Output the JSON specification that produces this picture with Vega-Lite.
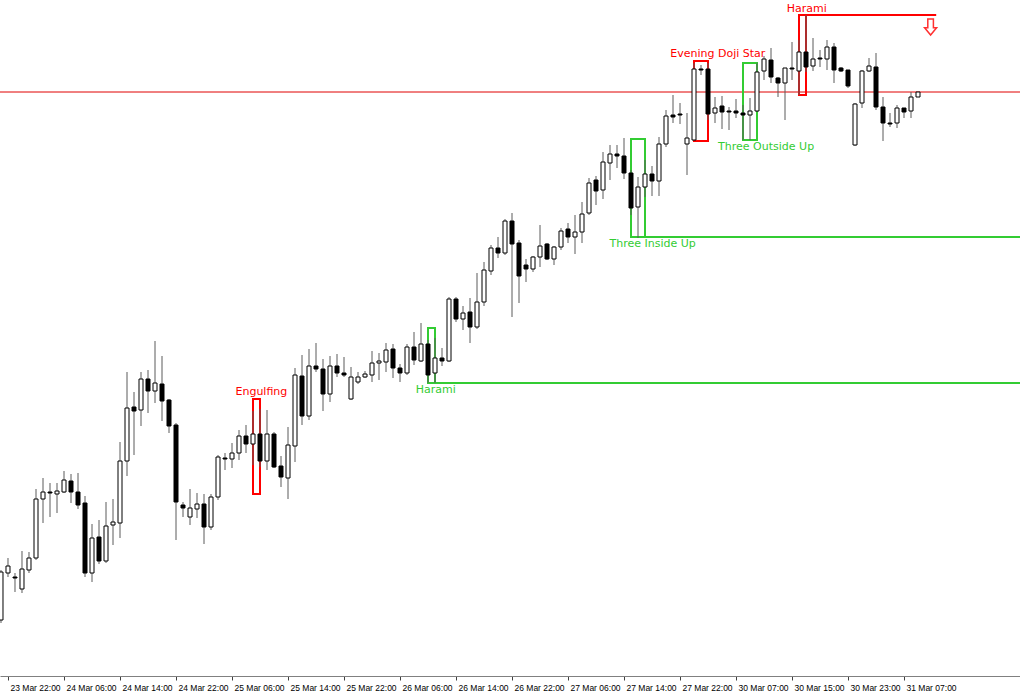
{
  "$schema": "https://vega.github.io/schema/vega-lite/v6.json",
  "width": 1020,
  "height": 676,
  "padding": {"left": 0, "top": 0, "right": 0, "bottom": 24},
  "autosize": {"type": "none"},
  "background": "white",
  "config": {"view": {"stroke": null}},
  "datasets": {
    "candles": [
      {"i":-1,"o":380,"h":430,"l":377,"c":428},
      {"i":0,"o":427,"h":442,"l":423,"c":434},
      {"i":1,"o":423,"h":427,"l":408,"c":422},
      {"i":2,"o":411,"h":449,"l":407,"c":431},
      {"i":3,"o":430,"h":448,"l":427,"c":442},
      {"i":4,"o":442,"h":511,"l":440,"c":501},
      {"i":5,"o":501,"h":522,"l":477,"c":508},
      {"i":6,"o":508,"h":517,"l":483,"c":507},
      {"i":7,"o":506,"h":517,"l":487,"c":509},
      {"i":8,"o":508,"h":529,"l":507,"c":520},
      {"i":9,"o":519,"h":526,"l":497,"c":508},
      {"i":10,"o":508,"h":527,"l":491,"c":495},
      {"i":11,"o":497,"h":504,"l":423,"c":427},
      {"i":12,"o":427,"h":476,"l":418,"c":462},
      {"i":13,"o":463,"h":480,"l":436,"c":439},
      {"i":14,"o":439,"h":498,"l":437,"c":474},
      {"i":15,"o":475,"h":501,"l":455,"c":478},
      {"i":16,"o":477,"h":558,"l":462,"c":539},
      {"i":17,"o":539,"h":628,"l":524,"c":592},
      {"i":18,"o":593,"h":608,"l":545,"c":589},
      {"i":19,"o":590,"h":628,"l":574,"c":621},
      {"i":20,"o":621,"h":630,"l":587,"c":609},
      {"i":21,"o":609,"h":659,"l":597,"c":617},
      {"i":22,"o":616,"h":644,"l":579,"c":599},
      {"i":23,"o":600,"h":601,"l":567,"c":574},
      {"i":24,"o":575,"h":577,"l":460,"c":498},
      {"i":25,"o":495,"h":498,"l":483,"c":492},
      {"i":26,"o":483,"h":511,"l":475,"c":492},
      {"i":27,"o":491,"h":507,"l":482,"c":496},
      {"i":28,"o":496,"h":506,"l":456,"c":473},
      {"i":29,"o":473,"h":506,"l":470,"c":503},
      {"i":30,"o":503,"h":545,"l":500,"c":543},
      {"i":31,"o":542,"h":547,"l":530,"c":541},
      {"i":32,"o":541,"h":557,"l":532,"c":547},
      {"i":33,"o":547,"h":570,"l":540,"c":564},
      {"i":34,"o":564,"h":575,"l":547,"c":556},
      {"i":35,"o":556,"h":589,"l":535,"c":566},
      {"i":36,"o":566,"h":591,"l":533,"c":539},
      {"i":37,"o":539,"h":590,"l":530,"c":566},
      {"i":38,"o":566,"h":568,"l":532,"c":533},
      {"i":39,"o":534,"h":544,"l":513,"c":523},
      {"i":40,"o":522,"h":573,"l":501,"c":555},
      {"i":41,"o":554,"h":632,"l":538,"c":625},
      {"i":42,"o":624,"h":645,"l":575,"c":584},
      {"i":43,"o":584,"h":651,"l":580,"c":634},
      {"i":44,"o":634,"h":657,"l":628,"c":631},
      {"i":45,"o":631,"h":641,"l":589,"c":606},
      {"i":46,"o":606,"h":644,"l":598,"c":634},
      {"i":47,"o":634,"h":646,"l":623,"c":627},
      {"i":48,"o":627,"h":643,"l":623,"c":625},
      {"i":49,"o":601,"h":633,"l":600,"c":623},
      {"i":50,"o":618,"h":628,"l":616,"c":623},
      {"i":51,"o":623,"h":629,"l":622,"c":626},
      {"i":52,"o":625,"h":649,"l":618,"c":637},
      {"i":53,"o":637,"h":647,"l":620,"c":639},
      {"i":54,"o":638,"h":657,"l":628,"c":650},
      {"i":55,"o":651,"h":656,"l":622,"c":632},
      {"i":56,"o":632,"h":636,"l":618,"c":627},
      {"i":57,"o":627,"h":656,"l":625,"c":653},
      {"i":58,"o":653,"h":668,"l":635,"c":640},
      {"i":59,"o":639,"h":677,"l":638,"c":656},
      {"i":60,"o":656,"h":660,"l":617,"c":625},
      {"i":61,"o":627,"h":662,"l":617,"c":642},
      {"i":62,"o":642,"h":652,"l":634,"c":639},
      {"i":63,"o":639,"h":703,"l":638,"c":701},
      {"i":64,"o":701,"h":703,"l":678,"c":681},
      {"i":65,"o":681,"h":694,"l":670,"c":687},
      {"i":66,"o":688,"h":702,"l":657,"c":673},
      {"i":67,"o":673,"h":727,"l":671,"c":698},
      {"i":68,"o":698,"h":738,"l":694,"c":730},
      {"i":69,"o":729,"h":755,"l":725,"c":752},
      {"i":70,"o":752,"h":763,"l":742,"c":747},
      {"i":71,"o":747,"h":781,"l":745,"c":779},
      {"i":72,"o":779,"h":787,"l":683,"c":756},
      {"i":73,"o":757,"h":760,"l":697,"c":724},
      {"i":74,"o":735,"h":741,"l":718,"c":731},
      {"i":75,"o":731,"h":744,"l":728,"c":743},
      {"i":76,"o":743,"h":775,"l":733,"c":754},
      {"i":77,"o":756,"h":757,"l":740,"c":741},
      {"i":78,"o":741,"h":754,"l":735,"c":753},
      {"i":79,"o":753,"h":772,"l":750,"c":769},
      {"i":80,"o":771,"h":777,"l":757,"c":763},
      {"i":81,"o":763,"h":785,"l":746,"c":768},
      {"i":82,"o":768,"h":798,"l":757,"c":786},
      {"i":83,"o":787,"h":822,"l":785,"c":817},
      {"i":84,"o":820,"h":824,"l":795,"c":809},
      {"i":85,"o":810,"h":848,"l":801,"c":838},
      {"i":86,"o":837,"h":855,"l":820,"c":846},
      {"i":87,"o":846,"h":855,"l":832,"c":844},
      {"i":88,"o":844,"h":862,"l":821,"c":827},
      {"i":89,"o":827,"h":830,"l":785,"c":792},
      {"i":90,"o":793,"h":823,"l":762,"c":813},
      {"i":91,"o":813,"h":840,"l":803,"c":826},
      {"i":92,"o":826,"h":834,"l":804,"c":819},
      {"i":93,"o":819,"h":863,"l":804,"c":856},
      {"i":94,"o":856,"h":890,"l":853,"c":884},
      {"i":95,"o":885,"h":905,"l":877,"c":883},
      {"i":96,"o":886,"h":897,"l":876,"c":885},
      {"i":97,"o":856,"h":887,"l":825,"c":862},
      {"i":98,"o":860,"h":937,"l":859,"c":931},
      {"i":99,"o":931,"h":935,"l":925,"c":930},
      {"i":100,"o":931,"h":937,"l":880,"c":886},
      {"i":101,"o":887,"h":903,"l":877,"c":892},
      {"i":102,"o":894,"h":904,"l":871,"c":888},
      {"i":103,"o":889,"h":893,"l":870,"c":888},
      {"i":104,"o":889,"h":901,"l":882,"c":887},
      {"i":105,"o":887,"h":895,"l":860,"c":885},
      {"i":106,"o":885,"h":902,"l":860,"c":889},
      {"i":107,"o":889,"h":937,"l":888,"c":928},
      {"i":108,"o":929,"h":944,"l":920,"c":941},
      {"i":109,"o":940,"h":952,"l":917,"c":923},
      {"i":110,"o":922,"h":923,"l":903,"c":917},
      {"i":111,"o":917,"h":932,"l":880,"c":932},
      {"i":112,"o":932,"h":958,"l":920,"c":931},
      {"i":113,"o":929,"h":960,"l":905,"c":948},
      {"i":114,"o":948,"h":985,"l":928,"c":933},
      {"i":115,"o":934,"h":962,"l":929,"c":941},
      {"i":116,"o":942,"h":950,"l":933,"c":941},
      {"i":117,"o":941,"h":960,"l":930,"c":953},
      {"i":118,"o":953,"h":957,"l":917,"c":930},
      {"i":119,"o":932,"h":933,"l":928,"c":929},
      {"i":120,"o":930,"h":930,"l":912,"c":914},
      {"i":121,"o":855,"h":897,"l":854,"c":896},
      {"i":122,"o":897,"h":930,"l":892,"c":929},
      {"i":123,"o":929,"h":942,"l":928,"c":934},
      {"i":124,"o":933,"h":947,"l":890,"c":893},
      {"i":125,"o":893,"h":903,"l":859,"c":877},
      {"i":126,"o":877,"h":887,"l":873,"c":876},
      {"i":127,"o":877,"h":895,"l":872,"c":892},
      {"i":128,"o":892,"h":892,"l":882,"c":888},
      {"i":129,"o":889,"h":908,"l":882,"c":903},
      {"i":130,"o":903,"h":908,"l":903,"c":908}
    ],
    "boxes": [
      {"pattern":"Engulfing","kind":"bearish","i":35,"i2":36,"top":601,"bottom":506},
      {"pattern":"Harami","kind":"bullish","i":60,"i2":61,"top":672,"bottom":617},
      {"pattern":"Three Inside Up","kind":"bullish","i":89,"i2":91,"top":861,"bottom":763},
      {"pattern":"Evening Doji Star","kind":"bearish","i":98,"i2":100,"top":939,"bottom":859},
      {"pattern":"Three Outside Up","kind":"bullish","i":105,"i2":107,"top":937,"bottom":860},
      {"pattern":"Harami","kind":"bearish","i":113,"i2":114,"top":985,"bottom":905}
    ],
    "levels": [
      {"kind":"bullish","i":61,"i2":144.6,"v":617},
      {"kind":"bullish","i":91,"i2":144.6,"v":763},
      {"kind":"bearish","i":114,"i2":132.6,"v":985}
    ],
    "bid": [
      {"i":-1.2,"i2":144.6,"v":908}
    ],
    "labels": [
      {"pattern":"Engulfing","kind":"bearish","i":36.2,"v":608},
      {"pattern":"Harami","kind":"bullish","i":61.1,"v":610},
      {"pattern":"Three Inside Up","kind":"bullish","i":92.1,"v":756},
      {"pattern":"Evening Doji Star","kind":"bearish","i":101.4,"v":946},
      {"pattern":"Three Outside Up","kind":"bullish","i":108.3,"v":853},
      {"pattern":"Harami","kind":"bearish","i":114.1,"v":991}
    ],
    "signal": [
      {"kind":"bearish","i":131.8,"v":973}
    ]
  },
  "encoding": {
    "x": {
      "field": "i",
      "type": "quantitative",
      "scale": {"domain": [-1.142857, 144.571429], "nice": false, "zero": false, "padding": 0},
      "axis": {
        "title": null,
        "grid": false,
        "orient": "bottom",
        "values": [0, 8, 16, 24, 32, 40, 48, 56, 64, 72, 80, 88, 96, 104, 112, 120, 128],
        "labelExpr": "['23 Mar 22:00','24 Mar 06:00','24 Mar 14:00','24 Mar 22:00','25 Mar 06:00','25 Mar 14:00','25 Mar 22:00','26 Mar 06:00','26 Mar 14:00','26 Mar 22:00','27 Mar 06:00','27 Mar 14:00','27 Mar 22:00','30 Mar 07:00','30 Mar 15:00','30 Mar 23:00','31 Mar 07:00'][round(datum.value / 8)]",
        "domainColor": "#808080",
        "domainWidth": 1,
        "tickColor": "#404040",
        "tickSize": 4,
        "labelAlign": "left",
        "labelOffset": 2,
        "labelPadding": 3,
        "labelFont": "Liberation Sans",
        "labelFontSize": 8.5,
        "labelColor": "#000000",
        "labelOverlap": false,
        "labelFlush": false,
        "labelBound": false
      }
    }
  },
  "layer": [
    {
      "data": {"name": "bid"},
      "mark": {"type": "rule", "color": "#e00000", "strokeWidth": 1, "clip": true},
      "encoding": {
        "x2": {"field": "i2"},
        "y": {"field": "v", "type": "quantitative", "scale": {"domain": [324, 1000], "nice": false, "zero": false}, "axis": null}
      }
    },
    {
      "data": {"name": "levels"},
      "mark": {"type": "rule", "strokeWidth": 2, "clip": true},
      "encoding": {
        "x2": {"field": "i2"},
        "y": {"field": "v", "type": "quantitative", "scale": {"domain": [324, 1000], "nice": false, "zero": false}, "axis": null},
        "color": {"field": "kind", "type": "nominal", "scale": {"domain": ["bullish", "bearish"], "range": ["#33cc33", "#ff0000"]}, "legend": null}
      }
    },
    {
      "data": {"name": "boxes"},
      "mark": {"type": "rect", "filled": false, "strokeWidth": 2},
      "encoding": {
        "x2": {"field": "i2"},
        "y": {"field": "top", "type": "quantitative", "scale": {"domain": [324, 1000], "nice": false, "zero": false}, "axis": null},
        "y2": {"field": "bottom"},
        "color": {"field": "kind", "type": "nominal", "scale": {"domain": ["bullish", "bearish"], "range": ["#33cc33", "#ff0000"]}, "legend": null}
      }
    },
    {
      "data": {"name": "candles"},
      "mark": {"type": "rule", "color": "#5a5a5a", "strokeWidth": 1},
      "encoding": {
        "y": {"field": "l", "type": "quantitative", "scale": {"domain": [324, 1000], "nice": false, "zero": false}, "axis": null},
        "y2": {"field": "h"}
      }
    },
    {
      "data": {"name": "candles"},
      "mark": {"type": "bar", "width": 4, "stroke": "#000000", "strokeWidth": 1, "orient": "vertical"},
      "encoding": {
        "y": {"field": "o", "type": "quantitative", "scale": {"domain": [324, 1000], "nice": false, "zero": false}, "axis": null},
        "y2": {"field": "c"},
        "fill": {"condition": {"test": "datum.c < datum.o", "value": "#000000"}, "value": "#ffffff"}
      }
    },
    {
      "data": {"name": "labels"},
      "mark": {"type": "text", "font": "DejaVu Sans", "fontSize": 11, "align": "center", "baseline": "middle"},
      "encoding": {
        "y": {"field": "v", "type": "quantitative", "scale": {"domain": [324, 1000], "nice": false, "zero": false}, "axis": null},
        "text": {"field": "pattern"},
        "color": {"field": "kind", "type": "nominal", "scale": {"domain": ["bullish", "bearish"], "range": ["#44cc44", "#ff2a2a"]}, "legend": null}
      }
    },
    {
      "data": {"name": "signal"},
      "mark": {"type": "point", "shape": "M-0.35,-1L0.35,-1L0.35,0.1L0.75,0.1L0,1L-0.75,0.1L-0.35,0.1Z", "size": 256, "filled": false, "fill": "#ffffff", "stroke": "#ff3030", "strokeWidth": 1.5, "opacity": 1},
      "encoding": {
        "y": {"field": "v", "type": "quantitative", "scale": {"domain": [324, 1000], "nice": false, "zero": false}, "axis": null}
      }
    }
  ]
}
